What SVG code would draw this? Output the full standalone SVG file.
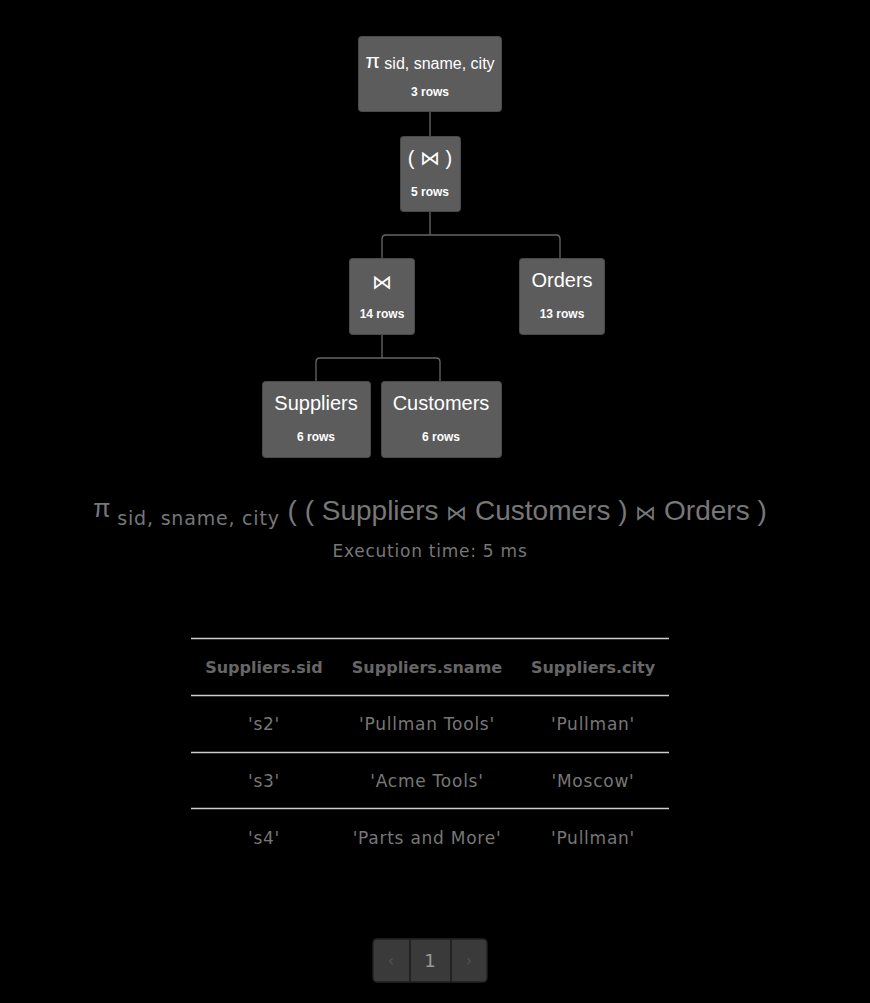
<svg xmlns="http://www.w3.org/2000/svg" width="870" height="1003" viewBox="0 0 870 1003">
<style>
.node rect{fill:#5c5c5c;stroke:#4a4a4a;stroke-width:1}
.t{font-family:"Liberation Sans",Arial,sans-serif;fill:#fff;text-anchor:middle}
.big{font-size:20px}
.rows{font-size:12px;font-weight:bold}
.conn{fill:none;stroke:#666;stroke-width:1.3}
.d{font-family:"DejaVu Sans",Verdana,sans-serif;text-anchor:middle;fill:#777;font-size:17px;letter-spacing:0.75px}
.h{font-weight:bold;fill:#666;font-size:16px;letter-spacing:0}
.rule{stroke:#ccc;stroke-width:1.5}
</style>
<rect width="870" height="1003" fill="#000"/>
<g id="connectors" class="conn">
<path d="M430 111V136"/>
<path d="M430 211V235M382 258V239Q382 235 386 235H556Q560 235 560 239V258"/>
<path d="M382 334V358M316 381V362Q316 358 320 358H436Q440 358 440 362V381"/>
</g>
<g id="n-project" class="node">
<rect x="358.500" y="36.500" width="143" height="75" rx="3"/>
<text class="t" x="430" y="68"><tspan font-size="21">π</tspan><tspan font-size="16" dy="1"> sid, sname, city</tspan></text>
<text class="t rows" x="430" y="96">3 rows</text>
</g>
<g id="n-join1" class="node">
<rect x="400.500" y="136.500" width="60" height="75" rx="3"/>
<text class="t big" x="430" y="165">( ⋈ )</text>
<text class="t rows" x="430" y="196">5 rows</text>
</g>
<g id="n-join2" class="node">
<rect x="349.500" y="258.500" width="65" height="76" rx="3"/>
<text class="t big" x="382" y="289">⋈</text>
<text class="t rows" x="382" y="318">14 rows</text>
</g>
<g id="n-orders" class="node">
<rect x="519.500" y="258.500" width="85" height="76" rx="3"/>
<text class="t big" x="562" y="287">Orders</text>
<text class="t rows" x="562" y="318">13 rows</text>
</g>
<g id="n-suppliers" class="node">
<rect x="262.500" y="381.500" width="108" height="76" rx="3"/>
<text class="t big" x="316" y="410">Suppliers</text>
<text class="t rows" x="316" y="441">6 rows</text>
</g>
<g id="n-customers" class="node">
<rect x="381.500" y="381.500" width="120" height="76" rx="3"/>
<text class="t big" x="441" y="410">Customers</text>
<text class="t rows" x="441" y="441">6 rows</text>
</g>
<g id="expression">
<text x="430" y="520" text-anchor="middle" fill="#777" font-family="Liberation Sans,Arial,sans-serif" font-size="28"><tspan font-size="25" dy="-3">π</tspan><tspan font-family="DejaVu Sans,Verdana,sans-serif" font-size="19" letter-spacing="0.8" dy="8"> sid, sname, city</tspan><tspan dy="-5"> ( ( Suppliers </tspan><tspan font-size="21">⋈</tspan><tspan> Customers ) </tspan><tspan font-size="21">⋈</tspan><tspan> Orders )</tspan></text>
<text class="d" x="430" y="557">Execution time: 5 ms</text>
</g>
<g id="table">
<line class="rule" x1="191" y1="638.500" x2="669" y2="638.500"/>
<line class="rule" x1="191" y1="695.500" x2="669" y2="695.500"/>
<line class="rule" x1="191" y1="752.500" x2="669" y2="752.500"/>
<line class="rule" x1="191" y1="808.500" x2="669" y2="808.500"/>
<text class="d h" x="264" y="673">Suppliers.sid</text>
<text class="d h" x="427" y="673">Suppliers.sname</text>
<text class="d h" x="593" y="673">Suppliers.city</text>
<text class="d" x="264" y="730">'s2'</text>
<text class="d" x="427" y="730">'Pullman Tools'</text>
<text class="d" x="593" y="730">'Pullman'</text>
<text class="d" x="264" y="787">'s3'</text>
<text class="d" x="427" y="787">'Acme Tools'</text>
<text class="d" x="593" y="787">'Moscow'</text>
<text class="d" x="264" y="844">'s4'</text>
<text class="d" x="427" y="844">'Parts and More'</text>
<text class="d" x="593" y="844">'Pullman'</text>
</g>
<g id="pagination">
<rect x="373" y="939" width="114" height="43" rx="4" fill="#3a3a3a" stroke="#222" stroke-width="1.5"/>
<line x1="410" y1="939" x2="410" y2="982" stroke="#222" stroke-width="2"/>
<line x1="451" y1="939" x2="451" y2="982" stroke="#222" stroke-width="2"/>
<text x="391" y="966" text-anchor="middle" fill="#555" font-family="DejaVu Sans,sans-serif" font-size="15">‹</text>
<text x="430" y="967" text-anchor="middle" fill="#999" font-family="DejaVu Sans,sans-serif" font-size="18">1</text>
<text x="469" y="966" text-anchor="middle" fill="#555" font-family="DejaVu Sans,sans-serif" font-size="15">›</text>
</g>
</svg>
